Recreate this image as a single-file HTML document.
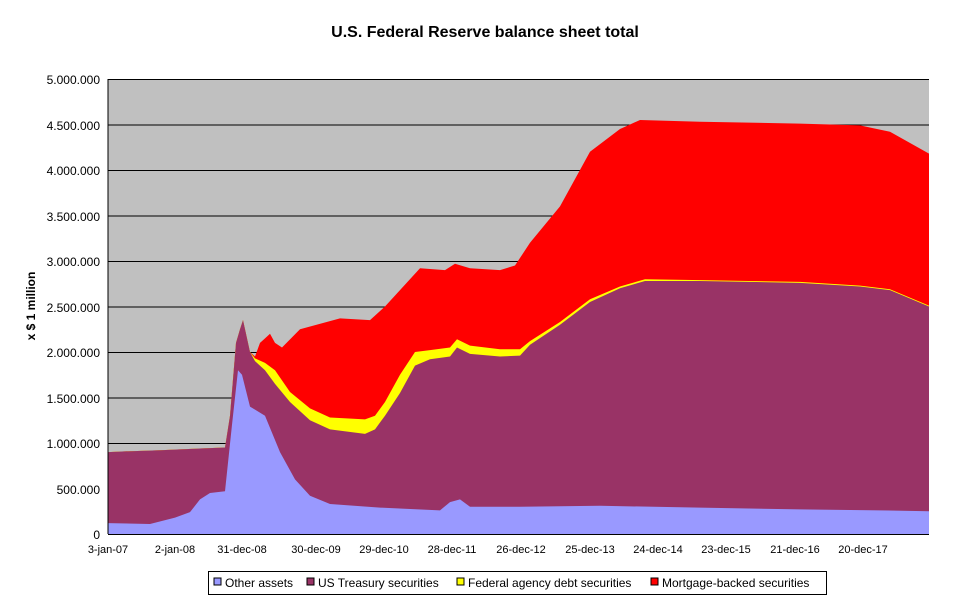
<!DOCTYPE html>
<html><head><meta charset="utf-8"><style>
body{margin:0;background:#fff;font-family:"Liberation Sans",Arial,sans-serif;}
</style></head><body>
<svg width="970" height="604" xmlns="http://www.w3.org/2000/svg" font-family="Liberation Sans, Arial, sans-serif">
<rect width="970" height="604" fill="#fff"/>
<text x="485" y="37" font-size="16" font-weight="bold" text-anchor="middle">U.S. Federal Reserve balance sheet total</text>
<rect x="108" y="79" width="821" height="455" fill="#c0c0c0"/>
<g stroke="#000" stroke-width="1">
<line x1="108" x2="929" y1="79.5" y2="79.5"/><line x1="108" x2="929" y1="125" y2="125"/><line x1="108" x2="929" y1="170.5" y2="170.5"/>
<line x1="108" x2="929" y1="216" y2="216"/><line x1="108" x2="929" y1="261.5" y2="261.5"/><line x1="108" x2="929" y1="307" y2="307"/>
<line x1="108" x2="929" y1="352.5" y2="352.5"/><line x1="108" x2="929" y1="398" y2="398"/><line x1="108" x2="929" y1="443.5" y2="443.5"/>
<line x1="108" x2="929" y1="489" y2="489"/>
</g>
<g transform="translate(0,534) scale(1,-0.091)">
<polygon fill="#ff0000" points="108,0 108,900 130,910 160,920 200,940 225,950 230,1300 236,2100 240,2250 243,2350 246,2200 250,2000 255,1950 260,2100 265,2150 270,2200 275,2100 282,2050 300,2250 340,2370 370,2350 385,2500 420,2920 445,2900 455,2970 470,2920 500,2900 515,2950 530,3200 560,3600 590,4200 620,4450 640,4550 700,4530 800,4510 860,4490 890,4420 929,4180 929,0"/>
<polygon fill="#ffff00" points="108,0 108,900 130,910 160,920 200,940 225,950 230,1300 236,2100 240,2250 243,2350 246,2200 250,2000 255,1930 265,1880 275,1800 290,1560 310,1380 330,1280 365,1260 375,1300 385,1450 400,1750 415,2000 430,2020 450,2050 457,2140 470,2070 500,2030 520,2030 530,2120 560,2330 590,2580 620,2720 645,2800 700,2790 800,2770 860,2730 890,2690 929,2510 929,0"/>
<polygon fill="#993366" points="108,0 108,900 130,910 160,920 200,940 225,950 230,1300 236,2100 240,2250 243,2350 246,2200 250,2000 255,1900 265,1800 275,1650 290,1450 310,1250 330,1150 365,1100 375,1150 385,1300 400,1550 415,1850 430,1920 450,1950 457,2050 470,1980 500,1950 520,1960 530,2080 560,2300 590,2550 620,2700 645,2780 700,2780 800,2760 860,2720 890,2680 929,2500 929,0"/>
<polygon fill="#9999ff" points="108,0 108,120 150,110 175,180 190,240 200,380 210,450 225,470 232,1200 238,1800 242,1750 250,1400 265,1300 280,900 295,600 310,420 330,330 380,290 440,260 450,350 460,380 470,300 520,300 600,310 700,290 800,270 880,260 929,250 929,0"/>
</g>
<line x1="108" y1="79" x2="108" y2="534" stroke="#000"/>
<line x1="108" y1="534.5" x2="929" y2="534.5" stroke="#000"/>
<g font-size="12" text-anchor="end">
<text x="100" y="84">5.000.000</text><text x="100" y="130">4.500.000</text><text x="100" y="175">4.000.000</text>
<text x="100" y="221">3.500.000</text><text x="100" y="266">3.000.000</text><text x="100" y="312">2.500.000</text>
<text x="100" y="357">2.000.000</text><text x="100" y="403">1.500.000</text><text x="100" y="448">1.000.000</text>
<text x="100" y="494">500.000</text><text x="100" y="539">0</text>
</g>
<text transform="translate(35,306) rotate(-90)" font-size="12" font-weight="bold" text-anchor="middle">x $ 1 million</text>
<g font-size="11" text-anchor="middle">
<text x="108" y="553">3-jan-07</text><text x="175" y="553">2-jan-08</text><text x="242" y="553">31-dec-08</text>
<text x="316" y="553">30-dec-09</text><text x="384" y="553">29-dec-10</text><text x="452" y="553">28-dec-11</text>
<text x="521" y="553">26-dec-12</text><text x="590" y="553">25-dec-13</text><text x="658" y="553">24-dec-14</text>
<text x="726" y="553">23-dec-15</text><text x="795" y="553">21-dec-16</text><text x="863" y="553">20-dec-17</text>
</g>
<rect x="208.5" y="571.5" width="618" height="23" fill="#fff" stroke="#000"/>
<g font-size="12">
<rect x="214" y="578" width="7" height="7" fill="#9999ff" stroke="#000"/><text x="225" y="587">Other assets</text>
<rect x="307" y="578" width="7" height="7" fill="#993366" stroke="#000"/><text x="318" y="587">US Treasury securities</text>
<rect x="457" y="578" width="7" height="7" fill="#ffff00" stroke="#000"/><text x="468" y="587">Federal agency debt securities</text>
<rect x="651" y="578" width="7" height="7" fill="#ff0000" stroke="#000"/><text x="662" y="587">Mortgage-backed securities</text>
</g>
</svg>
</body></html>
